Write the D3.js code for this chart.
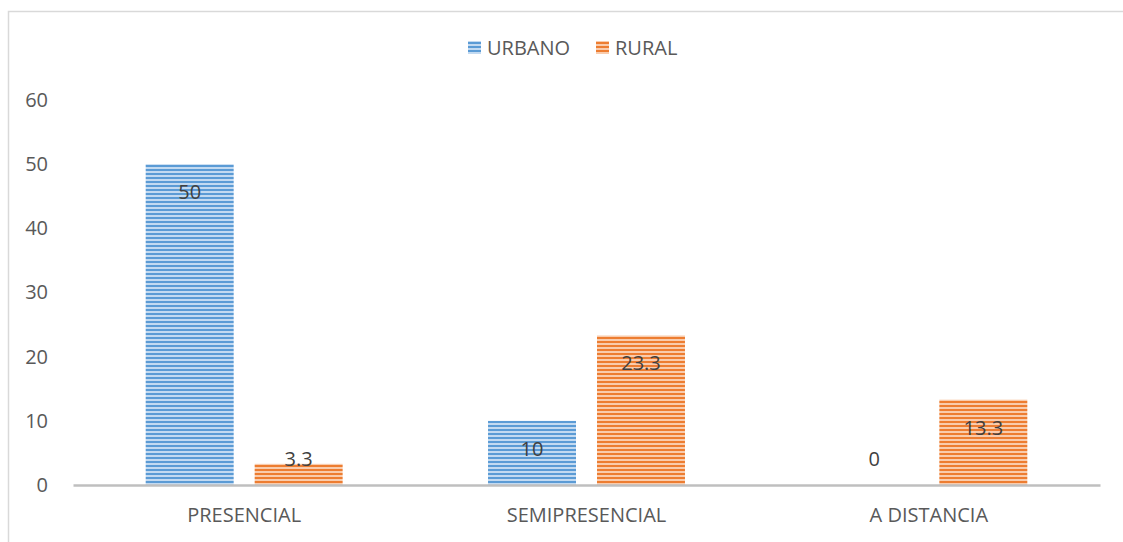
<!DOCTYPE html>
<html>
<head>
<meta charset="utf-8">
<script src="https://cdn.jsdelivr.net/npm/d3@7"></script>
<style>
  body { margin: 0; background: #fff; }
  text { font-family: "Open Sans", sans-serif; }
</style>
</head>
<body>
<script>
// datos
var categories = ["PRESENCIAL", "SEMIPRESENCIAL", "A DISTANCIA"];
var series = ["URBANO", "RURAL"];
var urbano = [50, 10, 0];
var rural = [3.3, 23.3, 13.3];
var yTicks = [0, 10, 20, 30, 40, 50, 60];

var W = 1123, H = 542;
var margin = {top: 100, right: 23, bottom: 57, left: 73},
    width = W - margin.left - margin.right,
    height = H - margin.top - margin.bottom;

var colors = {URBANO: "#5b9bd5", RURAL: "#ed7d31"};
var light = {URBANO: "#c3daf1", RURAL: "#f9ccad"};

var svg = d3.select("body").append("svg")
    .attr("width", W)
    .attr("height", H);

// patrones de rayas horizontales
var defs = svg.append("defs");
series.forEach(function(s) {
  var p = defs.append("pattern")
      .attr("id", "pat-" + s)
      .attr("patternUnits", "userSpaceOnUse")
      .attr("width", 8).attr("height", 4);
  p.append("rect").attr("width", 8).attr("height", 4).attr("fill", light[s]);
  p.append("rect").attr("y", 1).attr("width", 8).attr("height", 2).attr("fill", colors[s]);
});

// borde del gráfico
svg.append("rect")
    .attr("x", 8.5).attr("y", 11.5)
    .attr("width", 1300).attr("height", 700)
    .attr("fill", "none")
    .attr("stroke", "#d9d9d9")
    .attr("stroke-width", 1.5);

var g = svg.append("g")
    .attr("transform", "translate(" + margin.left + "," + margin.top + ")");

var x0 = d3.scaleBand().domain(categories).range([0, width]).padding(0);
var x1 = d3.scaleBand().domain(series).range([0, x0.bandwidth()])
    .paddingInner(0.1927).paddingOuter(0.667);
var y = d3.scaleLinear().domain([0, 60]).range([height, 0]);

var data = categories.map(function(c, i) {
  return {cat: c, values: [{key: "URBANO", v: urbano[i]}, {key: "RURAL", v: rural[i]}]};
});

// eje y (solo etiquetas)
var yAxis = d3.axisLeft(y).tickValues(yTicks).tickSize(0).tickPadding(25);
var ya = g.append("g").call(yAxis);
ya.select(".domain").remove();
ya.selectAll("text")
    .attr("fill", "#595959")
    .style("font-size", "20px");

// barras
var groups = g.selectAll("g.cat")
    .data(data)
    .enter().append("g")
    .attr("class", "cat")
    .attr("transform", function(d) { return "translate(" + x0(d.cat) + ",0)"; });

groups.selectAll("rect")
    .data(function(d) { return d.values; })
    .enter().append("rect")
    .attr("x", function(d) { return x1(d.key); })
    .attr("y", function(d) { return y(d.v); })
    .attr("width", x1.bandwidth())
    .attr("height", function(d) { return height - y(d.v); })
    .attr("fill", function(d) { return "url(#pat-" + d.key + ")"; });

// etiquetas de datos
groups.selectAll("text.lbl")
    .data(function(d) { return d.values; })
    .enter().append("text")
    .attr("class", "lbl")
    .attr("x", function(d) { return x1(d.key) + x1.bandwidth() / 2; })
    .attr("y", function(d) { return Math.min(y(d.v) + 28, y(0) - 26); })
    .attr("dy", "0.35em")
    .attr("text-anchor", "middle")
    .attr("fill", "#404040")
    .style("font-size", "20px")
    .text(function(d) { return d.v; });

// eje x
var xAxis = d3.axisBottom(x0).tickSize(0).tickPadding(23);
var xa = g.append("g")
    .attr("transform", "translate(0," + height + ")")
    .call(xAxis);
xa.select(".domain")
    .attr("stroke", "#bfbfbf")
    .attr("stroke-width", 2.5);
xa.selectAll("text")
    .attr("fill", "#595959")
    .style("font-size", "20px");

// leyenda
var legend = svg.append("g").attr("transform", "translate(468,41)");
var lx = [0, 128];
series.forEach(function(s, i) {
  var it = legend.append("g").attr("transform", "translate(" + lx[i] + ",0)");
  it.append("rect").attr("width", 13).attr("height", 13)
      .attr("fill", "url(#pat-" + s + ")");
  it.append("text").attr("x", 19).attr("y", 7).attr("dy", "0.35em")
      .attr("fill", "#595959")
      .style("font-size", "20px")
      .text(s);
});
</script>
</body>
</html>
